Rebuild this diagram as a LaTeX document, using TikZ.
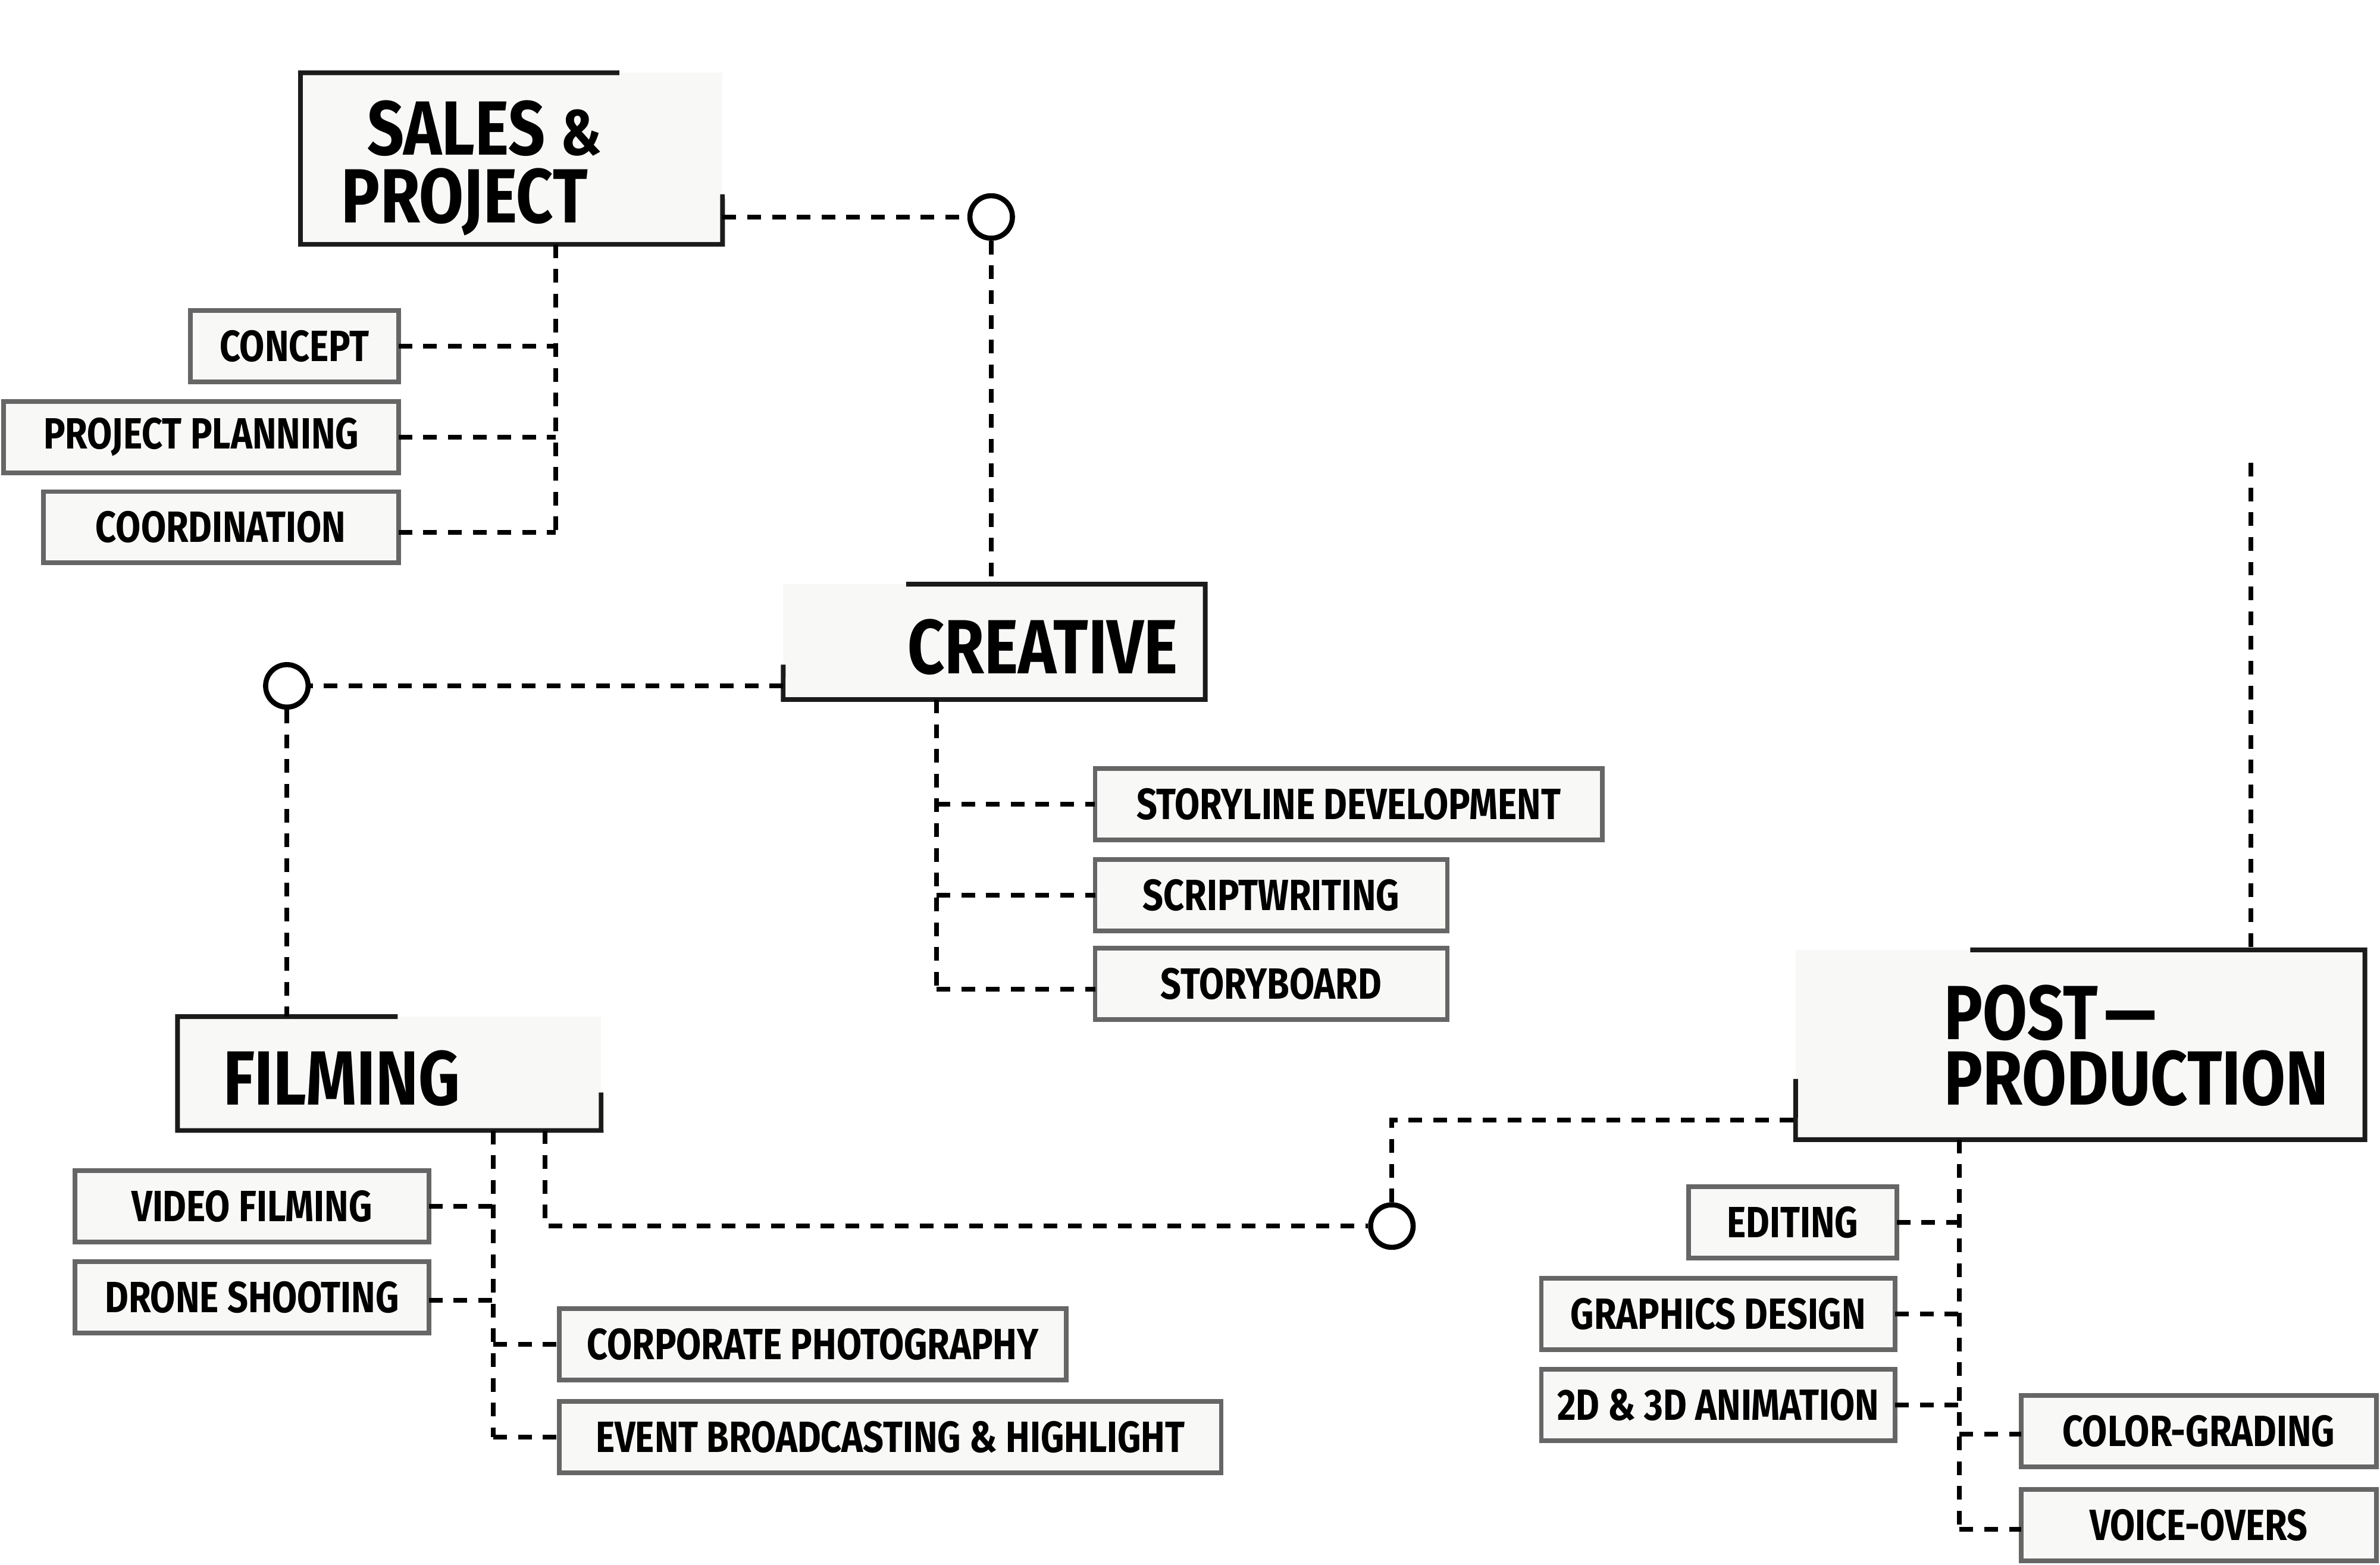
\documentclass[tikz,border=0pt]{standalone}
\usepackage{fontspec}
\setmainfont{Fira Sans}
\newfontfamily\cf[FakeStretch=0.83]{Fira Sans}
\newfontfamily\tf[FakeStretch=0.84]{Fira Sans}
\usetikzlibrary{calc}
\definecolor{boxfill}{HTML}{F8F8F6}
\definecolor{mainline}{HTML}{1B1B1B}
\definecolor{subline}{HTML}{666666}
\tikzset{
 mainbox/.style={fill=boxfill, inner sep=0, outer sep=0},
 mainborder/.style={draw=mainline, line width=2.2pt, line join=miter},
 subbox/.style={draw=subline, fill=boxfill, line width=2.2pt, inner sep=0, outer sep=0, minimum height=1.175cm, font=\cf\bfseries\fontsize{20.5}{24}\selectfont},
 titletext/.style={inner sep=0, outer sep=0, anchor=north west, align=left, font=\tf\bfseries\fontsize{36}{32}\selectfont},
 conn/.style={line width=2.2pt, dash pattern=on 6.4pt off 5.2pt},
 hub/.style={circle, draw=black, fill=white, line width=2.4pt, minimum size=0.7cm, inner sep=0},
}
\begin{document}
\begin{tikzpicture}[x=0.025cm, y=-0.025cm]
\useasboundingbox[fill=white] (0,0) rectangle (1568,1031);

% main boxes (fills)
\node[mainbox, minimum width=6.95cm, minimum height=2.825cm] (sales) at (337,104.5) {};
\node[mainbox, minimum width=6.95cm, minimum height=1.9cm] (creative) at (655,423) {};
\node[mainbox, minimum width=6.975cm, minimum height=1.875cm] (filming) at (256.5,707.5) {};
\node[mainbox, minimum width=9.375cm, minimum height=3.125cm] (post) at (1370.5,688.5) {};

% partial borders
\draw[mainborder] (408,48) -- (sales.north west) -- (sales.south west) -- (sales.south east) -- (476,128);
\draw[mainborder] (597,385) -- (creative.north east) -- (creative.south east) -- (creative.south west) -- (516,438);
\draw[mainborder] (262,670) -- (filming.north west) -- (filming.south west) -- (filming.south east) -- (396,720);
\draw[mainborder] (1298,626) -- (post.north east) -- (post.south east) -- (post.south west) -- (1183,711);

% titles
\node[titletext] (salesT) at (225,66) {\hspace*{0.425cm}SALES {\fontsize{30}{32}\selectfont\&}\\PROJECT};
\node[titletext] (creativeT) at (598,408) {CREATIVE};
\node[titletext] (filmingT) at (147,692) {FILMING};
\node[titletext, font=\tf\bfseries\fontsize{36}{30.6}\selectfont] (postT) at (1281,649) {POST\kern3pt—\\PRODUCTION};

% sub boxes
\node[subbox, minimum width=3.425cm] (concept) at (194,228) {CONCEPT};
\node[subbox, minimum width=6.5cm] (planning) at (132.5,288) {PROJECT PLANNING};
\node[subbox, minimum width=5.85cm] (coord) at (145.5,347.5) {COORDINATION};

\node[subbox, minimum width=8.35cm] (storyline) at (888.5,530) {STORYLINE DEVELOPMENT};
\node[subbox, minimum width=5.8cm] (script) at (837.5,590) {SCRIPTWRITING};
\node[subbox, minimum width=5.8cm] (storyboard) at (837.5,648.5) {STORYBOARD};

\node[subbox, minimum width=5.825cm] (video) at (166,795) {VIDEO FILMING};
\node[subbox, minimum width=5.825cm] (drone) at (166,855) {DRONE SHOOTING};
\node[subbox, minimum width=8.35cm] (corporate) at (535.5,886) {CORPORATE PHOTOGRAPHY};
\node[subbox, minimum width=10.9cm] (event) at (586.5,947) {EVENT BROADCASTING \& HIGHLIGHT};

\node[subbox, minimum width=3.425cm] (editing) at (1181,805.5) {EDITING};
\node[subbox, minimum width=5.825cm] (graphics) at (1132,866) {GRAPHICS DESIGN};
\node[subbox, minimum width=5.825cm] (anim) at (1132,926) {2D \& 3D ANIMATION};
\node[subbox, minimum width=5.85cm] (color) at (1448.5,943) {COLOR-GRADING};
\node[subbox, minimum width=5.85cm] (voice) at (1448.5,1005) {VOICE-OVERS};

% hubs
\node[hub] (c1) at (653,143) {};
\node[hub] (c2) at (189,452) {};
\node[hub] (c3) at (917,808) {};
\coordinate (topend) at (1483,305);
\coordinate (postin) at (1183,738);
\coordinate (filmout) at (359,745);

% main connectors
\draw[conn] (sales.east |- c1) -- (c1.west);
\draw[conn] (c1.south) -- (c1 |- creative.north);
\draw[conn] (creative.west |- c2) -- (c2.east);
\draw[conn] (c2.south) -- (c2 |- filming.north);
\draw[conn] (filmout) |- (c3.west);
\draw[conn] (c3.north) |- (postin);
\draw[conn] (topend) -- (topend |- post.north);

% sales tree
\draw[conn] (sales.south -| 366,0) -- (366,351);
\draw[conn] (concept.east) -- (concept.east -| 366,0);
\draw[conn] (planning.east) -- (planning.east -| 366,0);
\draw[conn] (coord.east |- 0,351) -- (366,351);

% creative tree
\draw[conn] (creative.south -| 617,0) -- (617,652);
\draw[conn] (617,530) -- (storyline.west);
\draw[conn] (617,590) -- (script.west);
\draw[conn] (617,652) -- (storyboard.west |- 0,652);

% filming tree
\draw[conn] (filming.south -| 325,0) -- (325,947);
\draw[conn] (video.east) -- (video.east -| 325,0);
\draw[conn] (drone.east |- 0,857) -- (325,857);
\draw[conn] (325,886) -- (corporate.west);
\draw[conn] (325,947) -- (event.west);

% post tree
\draw[conn] (post.south -| 1291,0) -- (1291,1008);
\draw[conn] (editing.east) -- (editing.east -| 1291,0);
\draw[conn] (graphics.east) -- (graphics.east -| 1291,0);
\draw[conn] (anim.east) -- (anim.east -| 1291,0);
\draw[conn] (1291,945) -- (color.west |- 0,945);
\draw[conn] (1291,1008) -- (voice.west |- 0,1008);
\end{tikzpicture}
\end{document}
